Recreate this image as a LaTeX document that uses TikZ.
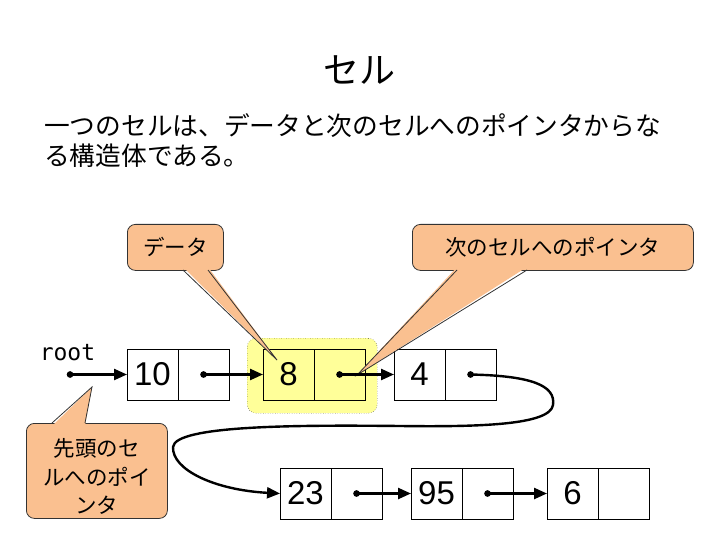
\documentclass[tikz,border=0pt]{standalone}
\usepackage{fontspec}
\setmainfont{Liberation Sans}
\newfontfamily\jp{Noto Sans CJK JP}
\newfontfamily\mono{DejaVu Sans Mono}
\usetikzlibrary{arrows.meta}
\definecolor{peach}{HTML}{FAC090}
\definecolor{hiyel}{HTML}{FFFF99}
\tikzset{
  half/.style={draw, line width=0.8pt, minimum width=51pt, minimum height=51pt,
    inner sep=0pt, outer sep=0pt, font=\fontsize{33}{33}\selectfont, anchor=north west},
  ptr/.style={line width=2.4pt, {Circle[length=6.5pt]}-{Triangle[length=13pt,width=11pt]}, shorten <=-3.2pt},
  callbox/.style={fill=peach, draw=black!80, line width=0.8pt, rounded corners=8pt,
    inner sep=0pt, font=\jp\fontsize{21.5}{29}\selectfont, align=center, anchor=north west},
  tailfill/.style={fill=peach},
  tailline/.style={draw=black!80, line width=0.8pt},
}
\begin{document}
\begin{tikzpicture}[x=1pt,y=-1pt]
\useasboundingbox (0,0) rectangle (720,540);
% title and text
\node[font=\jp\fontsize{36}{36}\selectfont] (title) at (359,70) {セル};
\node[anchor=north west, inner sep=0pt, align=left, font=\jp\fontsize{25.7}{30}\selectfont] (body) at (44,113)
  {一つのセルは、データと次のセルへのポインタからな\\る構造体である。};
% highlight
\node[draw, dotted, fill=hiyel, rounded corners=9pt, minimum width=130pt, minimum height=75pt,
  inner sep=0pt, anchor=north west] (hl) at (247,338) {};
% cells row 1
\node[half] (c1d) at (127,349) {10};
\node[half] (c1p) at (c1d.north east) {};
\node[half, fill=hiyel] (c2d) at (263,349) {8};
\node[half, fill=hiyel] (c2p) at (c2d.north east) {};
\node[half] (c3d) at (394,349) {4};
\node[half] (c3p) at (c3d.north east) {};
% cells row 2
\node[half] (c4d) at (280,468) {23};
\node[half] (c4p) at (c4d.north east) {};
\node[half] (c5d) at (411,468) {95};
\node[half] (c5p) at (c5d.north east) {};
\node[half] (c6d) at (547,468) {6};
\node[half] (c6p) at (c6d.north east) {};
% root
\node[font=\mono\fontsize{23}{23}\selectfont, inner sep=0pt] (roottxt) at (67.5,353) {root};
\coordinate (r0) at (70,374.5);
% callouts
\node[callbox, minimum width=96pt, minimum height=46pt] (cb1) at (127,224) {データ};
\coordinate (t1) at (277,360);
\fill[tailfill] (183,267) -- (t1) -- (208,267) -- cycle;
\draw[tailline] (183,270) -- (t1) -- (208,270);
\node[callbox, minimum width=281pt, minimum height=46pt] (cb2) at (412,224) {次のセルへのポインタ};
\coordinate (t2) at (357,375);
\fill[tailfill] (457,267) -- (t2) -- (527,267) -- cycle;
\draw[tailline] (457,270) -- (t2) -- (527,270);
\node[callbox, minimum width=141pt, minimum height=95pt] (cb3) at (26,423) {};
\node[font=\jp\fontsize{21.5}{28.5}\selectfont, align=center, inner sep=0pt] (cb3t) at ([yshift=-6pt]cb3.center)
  {先頭のセ\\ルへのポイ\\ンタ};
\coordinate (t3) at (92,387);
\fill[tailfill] (52,426) -- (t3) -- (85,426) -- cycle;
\draw[tailline] (52,423) -- (t3) -- (85,423);
% arrows
\draw[ptr] (r0) -- (c1d.west);
\draw[ptr] (c1p.center) -- (c2d.west);
\draw[ptr] (c2p.center) -- (c3d.west);
\draw[ptr] (c3p.center) .. controls (530,376) and (556,385) .. (553,405)
  .. controls (550,425) and (480,427) .. (400,426)
  .. controls (300,425) and (175,425) .. (173,447)
  .. controls (172,470) and (215,490) .. (c4d.west);
\draw[ptr] (c4p.center) -- (c5d.west);
\draw[ptr] (c5p.center) -- (c6d.west);
\end{tikzpicture}
\end{document}
